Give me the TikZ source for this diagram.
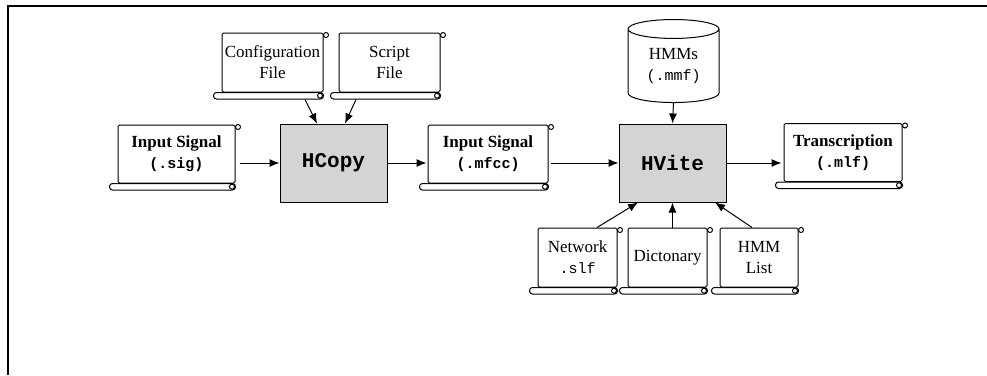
\documentclass[tikz,border=0pt]{standalone}
\usepackage{fontspec}
\setmainfont{Liberation Serif}
\setmonofont{Liberation Mono}
\usepackage{tikz}
\usetikzlibrary{arrows.meta}
\usetikzlibrary{shapes.geometric}
\definecolor{toolgray}{gray}{.83}
\newcommand{\ext}[1]{{\fontsize{15}{21}\selectfont\ttfamily #1}}
\newcommand{\extb}[1]{{\fontsize{15}{21}\selectfont\ttfamily\bfseries #1}}
\tikzset{
    common/.style={draw, line width=1pt, align=center, inner sep=0pt},
    scroll/.style={common, rounded corners=1.5pt, minimum height=58pt, font=\fontsize{17}{21}\selectfont},
    tool/.style={common, fill=toolgray, minimum width=107pt, minimum height=78pt, font=\fontsize{21}{25}\selectfont\ttfamily\bfseries},
    store/.style={common, cylinder, shape border rotate=90, aspect=0.35, minimum width=91pt, minimum height=83pt, font=\fontsize{17}{21}\selectfont},
    flow/.style={-{Latex[length=10pt, width=8pt]}, line width=1pt},
    frame/.style={line width=2.5pt}
}

\begin{document}
\begin{tikzpicture}[x=1pt, y=-1pt]
    \useasboundingbox (0,0) rectangle (987,375);
    \draw[frame] (8,375) -- (8,6) -- (987,6);

    % files and tools
    \node[scroll, minimum width=117pt] (sig) at (176.5,154) {\textbf{Input Signal}\\\extb{(.sig)}};
    \node[scroll, minimum width=101pt, minimum height=59pt] (cfg) at (272.5,62.5) {Configuration\\File};
    \node[scroll, minimum width=101pt, minimum height=59pt] (scr) at (389.5,62.5) {Script\\File};
    \node[tool] (hcopy) at (333.5,163) {HCopy};
    \node[scroll, minimum width=120pt] (mfcc) at (488,154) {\textbf{Input Signal}\\\extb{(.mfcc)}};
    \node[tool] (hvite) at (672.5,163) {HVite};
    \node[store] (hmms) at (673.5,66) {HMMs\\\ext{(.mmf)}};
    \node[scroll, minimum width=118pt] (mlf) at (843,152.5) {\textbf{Transcription}\\\extb{(.mlf)}};
    \node[scroll, minimum width=79pt, minimum height=59pt] (net) at (577.5,257.5) {Network\\\ext{.slf}};
    \node[scroll, minimum width=79pt, minimum height=59pt] (dict) at (667.5,257.5) {Dictonary};
    \node[scroll, minimum width=78pt, minimum height=59pt] (hlist) at (759,257.5) {HMM\\List};

    % scroll ends
    \foreach \n in {sig, cfg, scr, mfcc, mlf, net, dict, hlist} {
        \draw[line width=1pt] ([xshift=2.5pt, yshift=-2.5pt]\n.north east) circle (2.5pt);
        \draw[line width=1pt, fill=white, rounded corners=3pt]
            ([xshift=-8pt]\n.south west) rectangle ([yshift=-6.5pt]\n.south east);
        \draw[line width=1pt] ([xshift=-3.5pt, yshift=-3.2pt]\n.south east) circle (2.5pt);
    }

    \path[flow]
      (sig.east |- hcopy.west) edge[shorten <=4pt] (hcopy.west)
      (hcopy.east) edge[shorten >=1pt] (mfcc.west |- hcopy.east)
      (mfcc.east |- hvite.west) edge[shorten <=2pt] (hvite.west)
      (hvite.east) edge[shorten >=2pt] (mlf.west |- hvite.east)
      ([xshift=32.5pt, yshift=-7pt]cfg.south) edge ([xshift=-16.5pt]hcopy.north)
      ([xshift=-33.5pt, yshift=-7pt]scr.south) edge ([xshift=11.5pt]hcopy.north)
      (hmms.south) edge (hvite.north)
      ([xshift=19.5pt]net.north) edge ([xshift=-34.5pt]hvite.south)
      (hvite.south |- dict.north) edge (hvite.south)
      ([xshift=-7pt]hlist.north) edge ([xshift=42.5pt]hvite.south);
\end{tikzpicture}
\end{document}
